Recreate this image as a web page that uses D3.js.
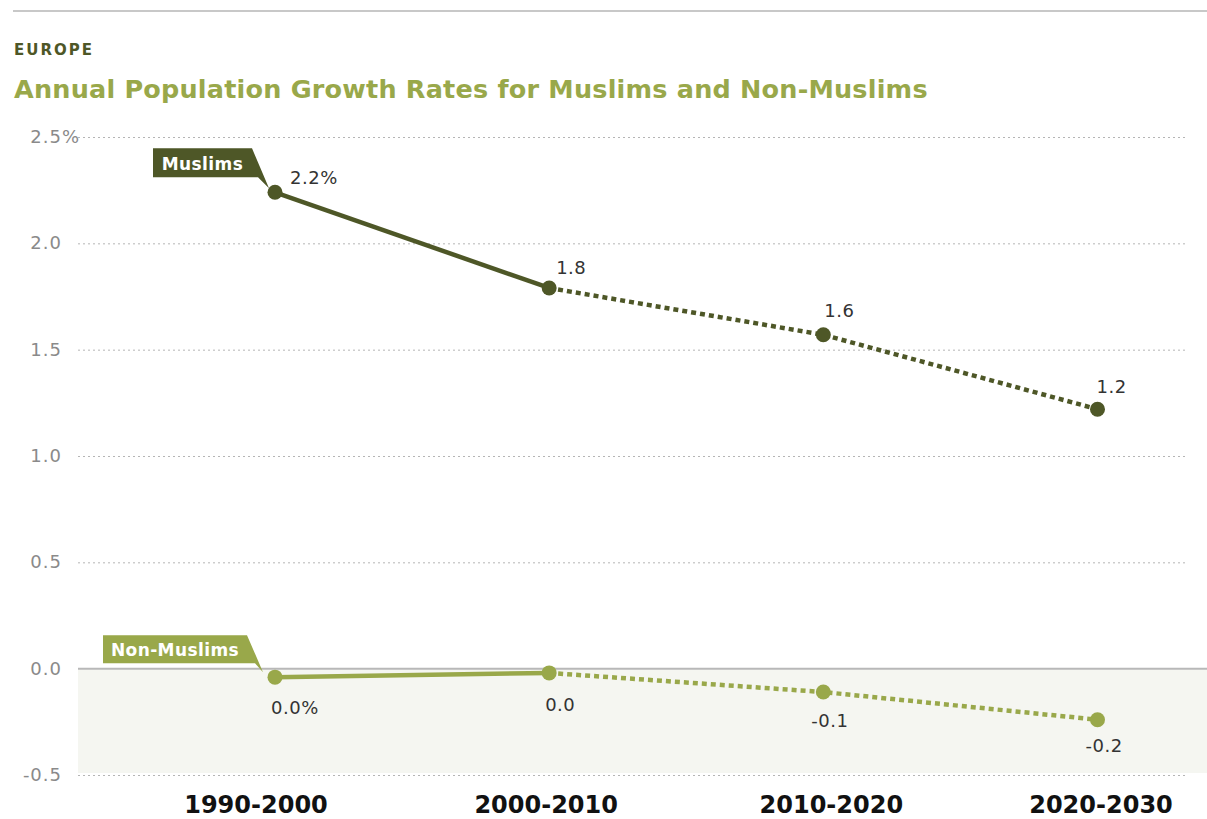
<!DOCTYPE html>
<html><head><meta charset="utf-8">
<script src="https://cdn.jsdelivr.net/npm/d3@7/dist/d3.min.js"></script>
<style>
html,body{margin:0;padding:0;background:#fff;}
svg{display:block;font-family:"DejaVu Sans",Verdana,sans-serif;}
</style></head>
<body>
<svg id="c" width="1207" height="819"></svg>
<script>
const categories = ["1990-2000","2000-2010","2010-2020","2020-2030"];
const muslims = [2.24, 1.79, 1.57, 1.22];
const nonMuslims = [-0.04, -0.02, -0.11, -0.24];
const muslimLabels = ["2.2%","1.8","1.6","1.2"];
const nonMuslimLabels = ["0.0%","0.0","-0.1","-0.2"];
const yTicks = [2.5, 2.0, 1.5, 1.0, 0.5, 0.0, -0.5];
const yTickLabels = ["2.5%","2.0","1.5","1.0","0.5","0.0","-0.5"];

const dark = "#4e5727", light = "#99a84a";
const svg = d3.select("#c");

const x = d3.scalePoint().domain(categories).range([275, 1097.5]);
const y = d3.scaleLinear().domain([-0.5, 2.5]).range([775, 137]);
const xLabelShift = [-19, -3, 8, 3.5];

// top rule
svg.append("line").attr("x1",13).attr("x2",1207).attr("y1",11).attr("y2",11)
  .attr("stroke","#c8c8c8").attr("stroke-width",2);

svg.append("text").attr("x",14).attr("y",55).text("EUROPE")
  .attr("font-size",15).attr("font-weight","bold").attr("letter-spacing",2).attr("fill",dark);
svg.append("text").attr("x",14).attr("y",98).text("Annual Population Growth Rates for Muslims and Non-Muslims")
  .attr("font-size",25.5).attr("font-weight","bold").attr("letter-spacing",0.2).attr("fill",light);

// shaded negative region
svg.append("rect").attr("x",78).attr("y",y(0)).attr("width",1207-78).attr("height",y(-0.5)-y(0)-2)
  .attr("fill","#f5f6f1");

// gridlines
yTicks.forEach(t=>{
  if (t===0) return;
  svg.append("line").attr("x1",78).attr("x2",1185).attr("y1",y(t)+0.5).attr("y2",y(t)+0.5)
    .attr("stroke","#b5b5b5").attr("stroke-width",1).attr("stroke-dasharray","2,3");
});
svg.append("line").attr("x1",78).attr("x2",1207).attr("y1",y(0)).attr("y2",y(0))
  .attr("stroke","#b8b8b8").attr("stroke-width",2);

// y tick labels (numbers right-aligned, % suffix hangs)
const tmp = svg.append("text").attr("font-size",18).attr("letter-spacing",1);
yTicks.forEach((t,i)=>{
  const lab = yTickLabels[i];
  const num = lab.replace("%","");
  tmp.text(num);
  const w = tmp.node().getComputedTextLength();
  svg.append("text").attr("x",62 - w).attr("y",y(t)+6).text(lab)
    .attr("font-size",18).attr("letter-spacing",1).attr("fill","#8a8a8a");
});
tmp.remove();

// lines
function drawSeries(vals, color, r){
  const pts = vals.map((v,i)=>[x(categories[i]), y(v)]);
  const line = d3.line();
  svg.append("path").attr("d", line(pts.slice(0,2))).attr("fill","none")
    .attr("stroke",color).attr("stroke-width",4.5);
  svg.append("path").attr("d", line(pts.slice(1))).attr("fill","none")
    .attr("stroke",color).attr("stroke-width",4.5).attr("stroke-dasharray","5,4");
  svg.selectAll(null).data(pts).enter().append("circle")
    .attr("cx",d=>d[0]).attr("cy",d=>d[1]).attr("r",r).attr("fill",color);
  return pts;
}
const mp = drawSeries(muslims, dark, 7.5);
const np = drawSeries(nonMuslims, light, 7.5);

// value labels
const mOff = [[15,-8],[7,-14],[1,-18],[-1,-16]];
muslimLabels.forEach((l,i)=>{
  svg.append("text").attr("x",mp[i][0]+mOff[i][0]).attr("y",mp[i][1]+mOff[i][1]).text(l)
    .attr("font-size",18).attr("letter-spacing",0.5).attr("fill","#333");
});
const nOff = [37, 38, 35, 32];
nonMuslimLabels.forEach((l,i)=>{
  const neg = l.startsWith("-");
  svg.append("text").attr("x",np[i][0]-4-(neg?8:0)).attr("y",np[i][1]+nOff[i]).text(l)
    .attr("font-size",18).attr("letter-spacing",0.5).attr("fill","#333");
});

// series callouts
function callout(p, color, text, left, top, right, bottom, tip, inner){
  const [px,py] = p;
  const poly = [[px+left,py+top],[px+right,py+top],[px+tip[0],py+tip[1]],[px+inner[0],py+inner[1]],[px+left,py+bottom]];
  svg.append("polygon").attr("points",poly.map(d=>d.join(",")).join(" ")).attr("fill",color);
  svg.append("text").attr("x",px+(left+right)/2).attr("y",py+bottom-7).attr("text-anchor","middle")
    .text(text).attr("font-size",17).attr("font-weight","bold").attr("letter-spacing",0.4).attr("fill","#fff");
}
callout(mp[0], dark, "Muslims", -122, -44, -23, -15, [-6,-4], [-17,-15]);
callout(np[0], light, "Non-Muslims", -172, -42, -28, -14, [-12,-5], [-20,-14]);

// x axis labels
categories.forEach((c,i)=>{
  svg.append("text").attr("x",x(c)+xLabelShift[i]).attr("y",813).attr("text-anchor","middle").text(c)
    .attr("font-size",24).attr("font-weight","bold").attr("fill","#111");
});
</script>
</body></html>
